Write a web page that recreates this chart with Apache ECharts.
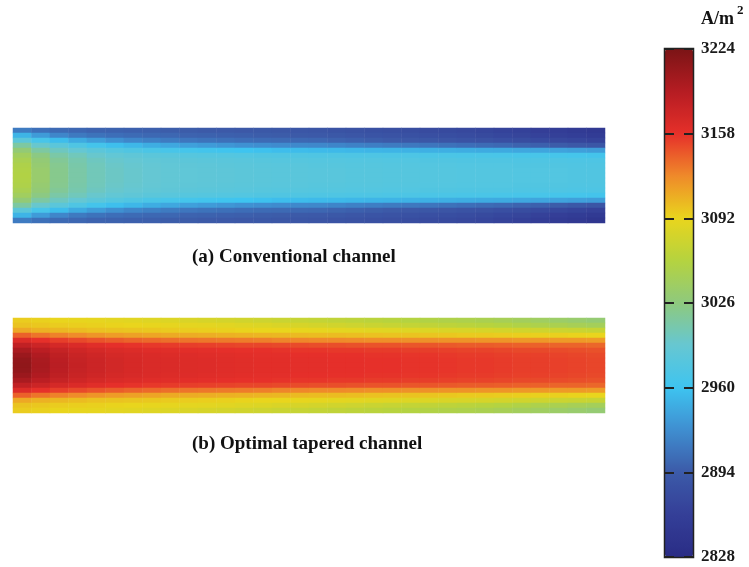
<!DOCTYPE html>
<html><head><meta charset="utf-8">
<script src="https://cdn.jsdelivr.net/npm/echarts@6/dist/echarts.min.js"></script>
<style>html,body{margin:0;padding:0;background:#fff}#c{width:749px;height:567px}</style>
</head><body><div id="c"></div>
<script>
// Current density (A/m^2); each inner array = one x-position (left -> right), values from top wall to bottom wall
const convField = [
  [2915,2950,2985,3012,3030,3042,3049,3053,3055,3056,3055,3053,3049,3042,3030,3012,2985,2950,2915],
  [2908,2935,2968,2995,3012,3024,3030,3033,3035,3035,3035,3033,3030,3024,3012,2995,2968,2935,2908],
  [2904,2922,2956,2984,3000,3010,3016,3019,3020,3020,3020,3019,3016,3010,3000,2984,2956,2922,2904],
  [2902,2914,2945,2974,2992,3002,3007,3009,3010,3010,3010,3009,3007,3002,2992,2974,2945,2914,2902],
  [2900,2910,2936,2965,2985,2995,3000,3002,3003,3003,3003,3002,3000,2995,2985,2965,2936,2910,2900],
  [2899,2907,2928,2957,2979,2990,2995,2997,2998,2998,2998,2997,2995,2990,2979,2957,2928,2907,2899],
  [2898,2905,2922,2952,2975,2987,2992,2994,2995,2995,2995,2994,2992,2987,2975,2952,2922,2905,2898],
  [2897,2903,2918,2946,2971,2984,2989,2991,2992,2992,2992,2991,2989,2984,2971,2946,2918,2903,2897],
  [2896,2902,2915,2942,2968,2982,2987,2989,2990,2990,2990,2989,2987,2982,2968,2942,2915,2902,2896],
  [2895,2900,2912,2938,2966,2980,2985,2987,2988,2988,2988,2987,2985,2980,2966,2938,2912,2900,2895],
  [2894,2899,2910,2935,2964,2979,2984,2986,2987,2987,2987,2986,2984,2979,2964,2935,2910,2899,2894],
  [2893,2898,2908,2932,2962,2978,2983,2985,2986,2986,2986,2985,2983,2978,2962,2932,2908,2898,2893],
  [2892,2897,2906,2929,2960,2977,2982,2984,2985,2985,2985,2984,2982,2977,2960,2929,2906,2897,2892],
  [2891,2896,2905,2927,2958,2976,2981,2983,2984,2984,2984,2983,2981,2976,2958,2927,2905,2896,2891],
  [2890,2895,2904,2925,2956,2975,2980,2982,2983,2983,2983,2982,2980,2975,2956,2925,2904,2895,2890],
  [2889,2894,2903,2924,2955,2975,2980,2982,2983,2983,2983,2982,2980,2975,2955,2924,2903,2894,2889],
  [2888,2893,2902,2923,2954,2974,2979,2981,2982,2982,2982,2981,2979,2974,2954,2923,2902,2893,2888],
  [2886,2891,2900,2921,2953,2974,2979,2981,2982,2982,2982,2981,2979,2974,2953,2921,2900,2891,2886],
  [2884,2889,2898,2919,2952,2973,2978,2980,2981,2981,2981,2980,2978,2973,2952,2919,2898,2889,2884],
  [2882,2887,2896,2917,2951,2973,2978,2980,2981,2981,2981,2980,2978,2973,2951,2917,2896,2887,2882],
  [2880,2885,2894,2915,2950,2972,2977,2979,2980,2980,2980,2979,2977,2972,2950,2915,2894,2885,2880],
  [2878,2883,2892,2913,2949,2972,2977,2979,2980,2980,2980,2979,2977,2972,2949,2913,2892,2883,2878],
  [2876,2881,2890,2911,2948,2971,2976,2978,2979,2979,2979,2978,2976,2971,2948,2911,2890,2881,2876],
  [2874,2879,2888,2909,2947,2971,2976,2978,2979,2979,2979,2978,2976,2971,2947,2909,2888,2879,2874],
  [2872,2877,2886,2907,2946,2970,2975,2977,2978,2978,2978,2977,2975,2970,2946,2907,2886,2877,2872],
  [2869,2874,2884,2905,2945,2970,2975,2977,2978,2978,2978,2977,2975,2970,2945,2905,2884,2874,2869],
  [2866,2871,2881,2903,2944,2969,2975,2977,2978,2978,2978,2977,2975,2969,2944,2903,2881,2871,2866],
  [2863,2868,2878,2900,2942,2968,2974,2976,2977,2977,2977,2976,2974,2968,2942,2900,2878,2868,2862],
  [2860,2865,2875,2898,2941,2968,2974,2976,2977,2977,2977,2976,2974,2968,2941,2898,2875,2864,2858],
  [2857,2862,2872,2895,2940,2967,2974,2976,2977,2977,2977,2976,2974,2967,2940,2895,2871,2860,2854],
  [2854,2859,2869,2892,2938,2966,2973,2975,2976,2976,2976,2975,2973,2966,2938,2891,2867,2856,2850],
  [2850,2855,2866,2889,2936,2965,2973,2975,2976,2976,2976,2975,2973,2965,2936,2888,2864,2852,2845]
];
const taperField = [
  [3096,3100,3112,3140,3165,3183,3197,3206,3211,3212,3211,3206,3197,3183,3165,3140,3112,3100,3096],
  [3094,3098,3108,3133,3158,3176,3187,3194,3197,3198,3197,3194,3187,3176,3158,3133,3108,3098,3094],
  [3092,3096,3105,3128,3153,3170,3180,3185,3187,3188,3187,3185,3180,3170,3153,3128,3105,3096,3092],
  [3091,3095,3103,3124,3149,3166,3174,3178,3180,3181,3180,3178,3174,3166,3149,3124,3103,3095,3091],
  [3090,3094,3101,3120,3145,3162,3170,3174,3176,3176,3176,3174,3170,3162,3145,3120,3101,3094,3090],
  [3088,3093,3100,3117,3142,3159,3167,3170,3172,3172,3172,3170,3167,3159,3142,3117,3100,3093,3088],
  [3087,3092,3099,3115,3139,3157,3165,3168,3169,3169,3169,3168,3165,3157,3139,3115,3099,3092,3087],
  [3085,3091,3098,3113,3137,3155,3163,3166,3167,3167,3167,3166,3163,3155,3137,3113,3098,3091,3085],
  [3084,3090,3097,3111,3135,3154,3162,3165,3166,3166,3166,3165,3162,3154,3135,3111,3097,3090,3084],
  [3082,3089,3096,3110,3133,3153,3161,3164,3165,3165,3165,3164,3161,3153,3133,3110,3096,3089,3082],
  [3080,3088,3095,3109,3132,3152,3160,3163,3164,3164,3164,3163,3160,3152,3132,3109,3095,3088,3080],
  [3078,3087,3094,3108,3131,3151,3159,3162,3163,3163,3163,3162,3159,3151,3131,3108,3094,3087,3078],
  [3076,3085,3093,3107,3130,3150,3158,3161,3162,3162,3162,3161,3158,3150,3130,3107,3093,3085,3076],
  [3074,3084,3092,3106,3129,3150,3158,3160,3161,3161,3161,3160,3158,3150,3129,3106,3092,3084,3074],
  [3072,3082,3092,3105,3127,3149,3157,3160,3161,3161,3161,3160,3157,3149,3127,3105,3092,3082,3072],
  [3070,3080,3091,3104,3126,3148,3156,3159,3160,3160,3160,3159,3156,3148,3126,3104,3091,3080,3070],
  [3068,3078,3090,3103,3125,3147,3156,3159,3160,3160,3160,3159,3156,3147,3125,3103,3090,3078,3068],
  [3066,3076,3089,3103,3125,3147,3155,3158,3159,3159,3159,3158,3155,3147,3125,3103,3089,3076,3066],
  [3064,3074,3088,3102,3124,3146,3155,3158,3159,3159,3159,3158,3155,3146,3124,3102,3088,3074,3064],
  [3062,3072,3087,3101,3123,3145,3154,3157,3158,3158,3158,3157,3154,3145,3123,3101,3087,3072,3062],
  [3060,3070,3086,3100,3123,3145,3154,3157,3158,3158,3158,3157,3154,3145,3123,3100,3086,3070,3060],
  [3058,3068,3085,3100,3122,3144,3153,3156,3157,3157,3157,3156,3153,3144,3122,3100,3085,3068,3058],
  [3056,3066,3084,3099,3122,3144,3153,3156,3157,3157,3157,3156,3153,3144,3122,3099,3084,3066,3056],
  [3054,3064,3082,3098,3121,3143,3152,3155,3156,3156,3156,3155,3152,3143,3121,3098,3082,3064,3054],
  [3052,3062,3081,3097,3121,3142,3151,3154,3155,3155,3155,3154,3151,3142,3121,3097,3081,3062,3052],
  [3050,3060,3080,3097,3120,3142,3151,3154,3155,3155,3155,3154,3151,3142,3120,3097,3080,3060,3050],
  [3047,3058,3078,3096,3120,3141,3150,3153,3154,3154,3154,3153,3150,3141,3120,3096,3078,3058,3047],
  [3044,3055,3076,3095,3119,3140,3149,3152,3153,3153,3153,3152,3149,3140,3119,3095,3076,3055,3044],
  [3041,3052,3075,3094,3119,3140,3149,3152,3153,3153,3153,3152,3149,3140,3119,3094,3075,3052,3041],
  [3038,3050,3073,3094,3118,3139,3148,3151,3152,3152,3152,3151,3148,3139,3118,3094,3073,3050,3038],
  [3035,3047,3072,3093,3118,3139,3147,3150,3151,3151,3151,3150,3147,3139,3118,3093,3072,3047,3035],
  [3032,3045,3070,3092,3117,3138,3146,3149,3150,3150,3150,3149,3146,3138,3117,3092,3070,3045,3032]
];
const colorbarTicks = ['2828', '2894', '2960', '3026', '3092', '3158', '3224'];
const valueMin = 2828, valueMax = 3224;
const unitText = 'A/m';
const unitSup = '2';
const captionA = '(a) Conventional channel';
const captionB = '(b) Optimal tapered channel';
const palette = ['#2a2c85','#343f98','#3c5aa8','#3f8ed0','#3ec4f0','#66c7d2','#8ec97e','#b5d33f','#e9d51d','#ef8a2a','#e6302a','#b51c22','#7b1416'];

const nx = convField.length, ny = convField[0].length;
const xCats = Array.from({length: nx}, (_, i) => i);
const yCats = Array.from({length: ny}, (_, j) => j);
function toCells(field) {
  const out = [];
  field.forEach((col, i) => col.forEach((v, j) => out.push([i, j, v])));
  return out;
}
const serif = '"Liberation Serif", "Times New Roman", serif';
const tickStyle = {show: true, inside: true, length: 9, lineStyle: {color: '#222', width: 2}};

const chart = echarts.init(document.getElementById('c'), null, {renderer: 'canvas'});
chart.setOption({
  animation: false,
  backgroundColor: '#fff',
  grid: [
    {left: 13, top: 128, width: 592, height: 95},
    {left: 13, top: 318, width: 592, height: 95},
    {left: 665, top: 49, width: 28, height: 508}
  ],
  xAxis: [
    {type: 'category', gridIndex: 0, data: xCats, show: false},
    {type: 'category', gridIndex: 1, data: xCats, show: false},
    {type: 'value', gridIndex: 2, min: 0, max: 1, show: false}
  ],
  yAxis: [
    {type: 'category', gridIndex: 0, data: yCats, inverse: true, show: false},
    {type: 'category', gridIndex: 1, data: yCats, inverse: true, show: false},
    {type: 'value', gridIndex: 2, min: 0, max: colorbarTicks.length - 1, interval: 1, position: 'left', z: 10,
     axisLine: {show: false}, axisTick: tickStyle, axisLabel: {show: false}, splitLine: {show: false}},
    {type: 'value', gridIndex: 2, min: 0, max: colorbarTicks.length - 1, interval: 1, position: 'right', z: 10,
     axisLine: {show: false}, axisTick: tickStyle, splitLine: {show: false},
     axisLabel: {formatter: v => colorbarTicks[v], fontFamily: serif, fontWeight: 'bold', fontSize: 17, color: '#1a1a1a', margin: 8}}
  ],
  visualMap: {
    type: 'continuous', min: valueMin, max: valueMax, seriesIndex: [0, 1],
    left: 665, top: 49, itemWidth: 28, itemHeight: 508, padding: 0,
    calculable: false, hoverLink: false, orient: 'vertical',
    inRange: {color: palette}
  },
  series: [
    {type: 'heatmap', xAxisIndex: 0, yAxisIndex: 0, data: toCells(convField), itemStyle: {borderWidth: 0}, emphasis: {disabled: true}},
    {type: 'heatmap', xAxisIndex: 1, yAxisIndex: 1, data: toCells(taperField), itemStyle: {borderWidth: 0}, emphasis: {disabled: true}}
  ],
  graphic: [
    {type: 'rect', z: 100, shape: {x: 664.5, y: 48.5, width: 29, height: 509}, style: {fill: 'none', stroke: '#222', lineWidth: 1.5}},
    {type: 'text', z: 100, x: 192, y: 257, style: {text: captionA, font: 'bold 19px ' + serif, fill: '#111', verticalAlign: 'middle'}},
    {type: 'text', z: 100, x: 192, y: 444, style: {text: captionB, font: 'bold 19px ' + serif, fill: '#111', verticalAlign: 'middle'}},
    {type: 'text', z: 100, x: 701, y: 19, style: {text: unitText, font: 'bold 18px ' + serif, fill: '#111', verticalAlign: 'middle'}},
    {type: 'text', z: 100, x: 737, y: 11, style: {text: unitSup, font: 'bold 13px ' + serif, fill: '#111', verticalAlign: 'middle'}}
  ]
});
</script></body></html>
